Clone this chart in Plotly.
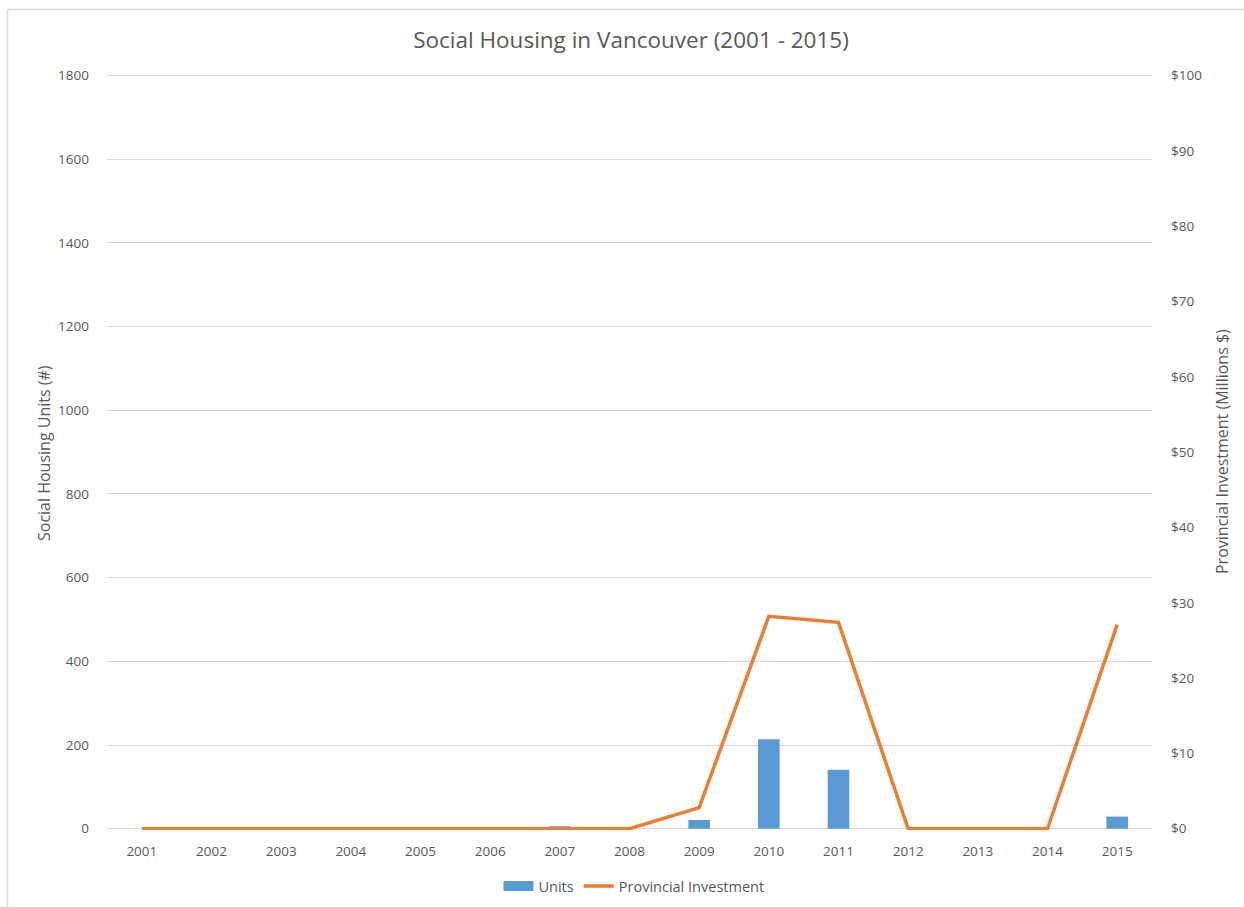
import plotly.graph_objects as go

years = ["2001", "2002", "2003", "2004", "2005", "2006", "2007", "2008",
         "2009", "2010", "2011", "2012", "2013", "2014", "2015"]
units = [0, 0, 0, 0, 0, 0, 6, 0, 21, 214, 141, 0, 0, 0, 29]
investment = [0, 0, 0, 0, 0, 0, 0, 0, 2.8, 28.2, 27.4, 0, 0, 0, 27.1]

units_ticks = list(range(0, 1801, 200))
invest_ticks = list(range(0, 101, 10))

FONT = "Open Sans"
GRAY = "#595959"
GRID = "#D9D9D9"
BLUE = "#5B9BD5"
ORANGE = "#ED7D31"

W, H = 1244, 907
L, R, T, B = 107, 92, 73, 77
pw, ph = W - L - R, H - T - B

Y_LO, Y_HI = -3, 1806
RATIO = 100 / 1800


def px_x(x):
    return (x - L) / pw


def px_y(y):
    return (H - B - y) / ph


fig = go.Figure()
fig.add_trace(go.Bar(
    x=years, y=units, name="Units",
    marker=dict(color=BLUE, line=dict(width=0)),
    width=0.31, yaxis="y", showlegend=False,
))
# legend swatch for Units (wide rectangle, like the original)
fig.add_trace(go.Scatter(
    x=[None], y=[None], name="Units", mode="lines",
    line=dict(color=BLUE, width=10), yaxis="y", hoverinfo="skip",
))
fig.add_trace(go.Scatter(
    x=years, y=investment, name="Provincial Investment",
    mode="lines", line=dict(color=ORANGE, width=3.5),
    yaxis="y2",
))

fig.update_layout(
    width=W, height=H,
    margin=dict(l=L, r=R, t=T, b=B, autoexpand=False),
    paper_bgcolor="white", plot_bgcolor="white",
    font=dict(family=FONT, size=13, color=GRAY),
    title=dict(text="Social Housing in Vancouver (2001 - 2015)",
               x=631 / W, xanchor="center",
               y=1 - 40 / H, yanchor="middle",
               font=dict(family=FONT, size=22.5, color=GRAY)),
    xaxis=dict(type="category", range=[-0.5, 14.5], showgrid=False,
               showline=False, zeroline=False, ticks="",
               ticklabelstandoff=11, tickfont=dict(size=13.5, color=GRAY)),
    yaxis=dict(range=[Y_LO, Y_HI], tickvals=units_ticks, showgrid=True,
               gridcolor=GRID, gridwidth=1, zeroline=False, showline=False,
               ticks="", ticklabelstandoff=17,
               tickfont=dict(size=13.5, color=GRAY)),
    yaxis2=dict(range=[Y_LO * RATIO, Y_HI * RATIO], tickvals=invest_ticks,
                ticktext=["$" + str(v) for v in invest_ticks],
                overlaying="y", side="right", showgrid=False,
                zeroline=False, showline=False, ticks="",
                ticklabelstandoff=18, tickfont=dict(size=13.5, color=GRAY)),
    legend=dict(orientation="h", x=px_x(634), xanchor="center",
                y=px_y(886), yanchor="middle",
                font=dict(size=14.5, color=GRAY), bgcolor="rgba(0,0,0,0)",
                itemwidth=30, traceorder="normal"),
    showlegend=True,
)

fig.add_annotation(text="Social Housing Units (#)", xref="paper", yref="paper",
                   x=px_x(44), y=px_y(453), textangle=-90, showarrow=False,
                   xanchor="center", yanchor="middle",
                   font=dict(size=16, color=GRAY, family=FONT))
fig.add_annotation(text="Provincial Investment (Millions $)", xref="paper",
                   yref="paper", x=px_x(1222), y=px_y(452), textangle=-90,
                   showarrow=False, xanchor="center", yanchor="middle",
                   font=dict(size=16, color=GRAY, family=FONT))

# outer chart frame (partially visible)
fig.add_shape(type="line", xref="paper", yref="paper",
              x0=px_x(7.5), x1=px_x(1260), y0=px_y(9.5), y1=px_y(9.5),
              line=dict(color=GRID, width=1.5))
fig.add_shape(type="line", xref="paper", yref="paper",
              x0=px_x(7.5), x1=px_x(7.5), y0=px_y(9.5), y1=px_y(920),
              line=dict(color=GRID, width=1.5))

fig.write_html("out.html")
